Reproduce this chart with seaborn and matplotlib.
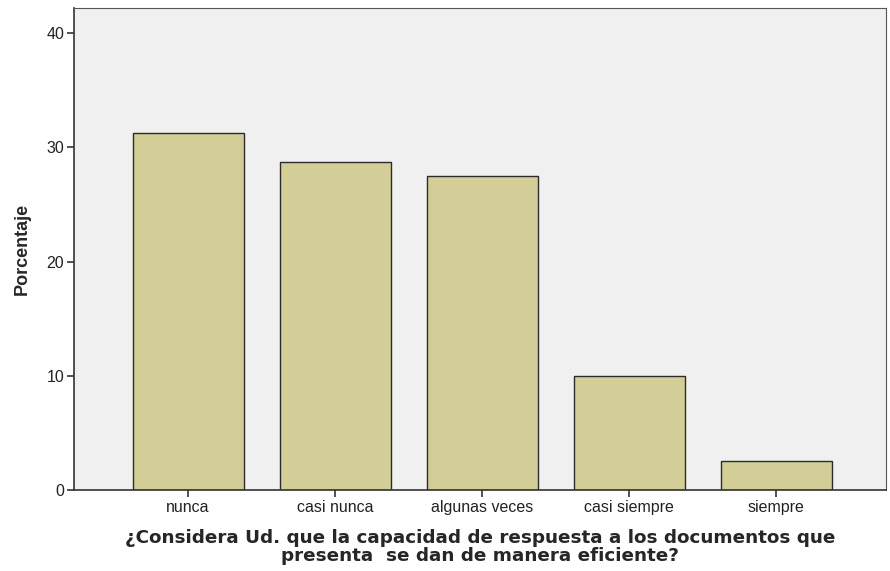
import matplotlib
matplotlib.use("Agg")
import matplotlib.pyplot as plt
import seaborn as sns
import pandas as pd

# data
categorias = ["nunca", "casi nunca", "algunas veces", "casi siempre", "siempre"]
porcentaje = [31.25, 28.75, 27.5, 10.0, 2.5]
y_ticks = [0, 10, 20, 30, 40]

df = pd.DataFrame({"categoria": categorias, "porcentaje": porcentaje})

sns.set_style("white")
plt.rcParams["font.family"] = ["Liberation Sans", "DejaVu Sans"]

fig = plt.figure(figsize=(8.9, 5.71), dpi=100)
ax = fig.add_axes([0.0831, 0.1419, 0.9124, 0.8441])
ax.set_facecolor("#F0F0F0")

sns.barplot(
    data=df,
    x="categoria",
    y="porcentaje",
    color="#D3CE97",
    saturation=1,
    width=0.755,
    edgecolor="#2b2b2b",
    linewidth=1.0,
    ax=ax,
)

ax.set_xlim(-0.776, 4.745)
ax.set_ylim(0, 42.2)
ax.set_yticks(y_ticks)

for side in ["left", "bottom"]:
    ax.spines[side].set_color("#333333")
    ax.spines[side].set_linewidth(1.2)
for side in ["top", "right"]:
    ax.spines[side].set_color("#555555")
    ax.spines[side].set_linewidth(0.8)

ax.tick_params(axis="both", which="major", direction="out", length=5, width=1.2,
               bottom=True, left=True, color="#333333", labelsize=11.5,
               labelcolor="#222222", pad=2)

ax.set_ylabel("Porcentaje", fontsize=13, fontweight="bold", labelpad=11)
ax.set_xlabel("¿Considera Ud. que la capacidad de respuesta a los documentos que\npresenta  se dan de manera eficiente?",
              fontsize=13.2, fontweight="bold", family="DejaVu Sans", labelpad=10,
              linespacing=1.0)

fig.savefig("out.png", dpi=100)
